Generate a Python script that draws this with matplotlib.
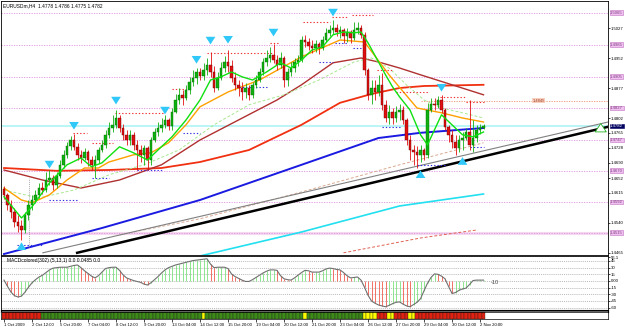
import numpy as np
import matplotlib
matplotlib.use("Agg")
import matplotlib.pyplot as plt

# EURUSDm H4, 1 Oct - 2 Nov 2009
first_open = 1.4625
closes = [
    1.4610, 1.4585, 1.4567, 1.4542, 1.4532, 1.4522, 1.4560, 1.4585, 1.4597, 1.4610,
    1.4627, 1.4622, 1.4647, 1.4652, 1.4635, 1.4657, 1.4685, 1.4710, 1.4732, 1.4747,
    1.4730, 1.4710, 1.4702, 1.4717, 1.4697, 1.4685, 1.4697, 1.4722, 1.4735, 1.4760,
    1.4777, 1.4785, 1.4802, 1.4777, 1.4760, 1.4747, 1.4760, 1.4735, 1.4722, 1.4710,
    1.4727, 1.4697, 1.4747, 1.4767, 1.4777, 1.4785, 1.4797, 1.4782, 1.4817, 1.4847,
    1.4860, 1.4852, 1.4872, 1.4892, 1.4902, 1.4917, 1.4907, 1.4922, 1.4935, 1.4917,
    1.4877, 1.4902, 1.4927, 1.4942, 1.4932, 1.4902, 1.4885, 1.4877, 1.4867, 1.4877,
    1.4860, 1.4885, 1.4897, 1.4917, 1.4942, 1.4952, 1.4960, 1.4947, 1.4935, 1.4952,
    1.4897, 1.4917, 1.4927, 1.4942, 1.4947, 1.4997, 1.4992, 1.4982, 1.4977, 1.4987,
    1.4977, 1.4997, 1.5015, 1.5022, 1.5027, 1.5017, 1.5022, 1.5007, 1.5017, 1.5002,
    1.5022, 1.5027, 1.5010, 1.4922, 1.4860, 1.4877, 1.4867, 1.4885, 1.4835, 1.4802,
    1.4817, 1.4802, 1.4817, 1.4822, 1.4797, 1.4747, 1.4722, 1.4717, 1.4710, 1.4722,
    1.4710, 1.4822, 1.4837, 1.4835, 1.4847, 1.4822, 1.4780, 1.4760, 1.4742, 1.4727,
    1.4747, 1.4752, 1.4767, 1.4735, 1.4752, 1.4772, 1.4777, 1.4782]
highs = [
    1.4632, 1.4615, 1.4597, 1.4577, 1.4560, 1.4547, 1.4567, 1.4597, 1.4610, 1.4622,
    1.4640, 1.4642, 1.4667, 1.4672, 1.4660, 1.4667, 1.4697, 1.4722, 1.4742, 1.4757,
    1.4762, 1.4740, 1.4722, 1.4727, 1.4722, 1.4707, 1.4710, 1.4730, 1.4747, 1.4772,
    1.4792, 1.4810, 1.4822, 1.4810, 1.4787, 1.4772, 1.4772, 1.4767, 1.4747, 1.4735,
    1.4735, 1.4732, 1.4755, 1.4777, 1.4792, 1.4802, 1.4810, 1.4802, 1.4827, 1.4862,
    1.4877, 1.4872, 1.4885, 1.4905, 1.4922, 1.4927, 1.4927, 1.4940, 1.4952, 1.4967,
    1.4932, 1.4917, 1.4942, 1.4957, 1.4972, 1.4947, 1.4917, 1.4897, 1.4892, 1.4890,
    1.4885, 1.4892, 1.4910, 1.4927, 1.4952, 1.4972, 1.4980, 1.4987, 1.4960, 1.4967,
    1.4957, 1.4927, 1.4942, 1.4952, 1.4960, 1.5007, 1.5010, 1.5002, 1.4997, 1.4997,
    1.4992, 1.5007, 1.5027, 1.5035, 1.5047, 1.5037, 1.5032, 1.5027, 1.5027, 1.5022,
    1.5042, 1.5042, 1.5035, 1.5017, 1.4927, 1.4897, 1.4897, 1.4910, 1.4915, 1.4847,
    1.4835, 1.4827, 1.4832, 1.4837, 1.4832, 1.4802, 1.4760, 1.4735, 1.4732, 1.4735,
    1.4727, 1.4840, 1.4852, 1.4852, 1.4857, 1.4860, 1.4827, 1.4785, 1.4772, 1.4760,
    1.4760, 1.4767, 1.4777, 1.4847, 1.4797, 1.4785, 1.4787, 1.4786]
lows = [
    1.4600, 1.4572, 1.4552, 1.4530, 1.4517, 1.4497, 1.4515, 1.4547, 1.4572, 1.4590,
    1.4602, 1.4612, 1.4617, 1.4635, 1.4622, 1.4627, 1.4652, 1.4677, 1.4702, 1.4722,
    1.4722, 1.4697, 1.4690, 1.4697, 1.4682, 1.4672, 1.4652, 1.4690, 1.4717, 1.4727,
    1.4752, 1.4767, 1.4777, 1.4767, 1.4747, 1.4735, 1.4735, 1.4722, 1.4672, 1.4692,
    1.4685, 1.4672, 1.4685, 1.4742, 1.4757, 1.4767, 1.4777, 1.4772, 1.4772, 1.4815,
    1.4837, 1.4835, 1.4847, 1.4862, 1.4882, 1.4887, 1.4897, 1.4897, 1.4910, 1.4905,
    1.4867, 1.4872, 1.4897, 1.4917, 1.4917, 1.4892, 1.4872, 1.4857, 1.4847, 1.4852,
    1.4847, 1.4852, 1.4877, 1.4892, 1.4910, 1.4932, 1.4942, 1.4940, 1.4922, 1.4927,
    1.4880, 1.4882, 1.4907, 1.4917, 1.4932, 1.4942, 1.4980, 1.4972, 1.4965, 1.4967,
    1.4962, 1.4972, 1.4992, 1.5007, 1.5012, 1.5007, 1.5002, 1.4990, 1.4992, 1.4990,
    1.4997, 1.5012, 1.5002, 1.4910, 1.4847, 1.4837, 1.4847, 1.4857, 1.4822, 1.4792,
    1.4787, 1.4787, 1.4792, 1.4797, 1.4787, 1.4735, 1.4697, 1.4685, 1.4677, 1.4692,
    1.4697, 1.4702, 1.4817, 1.4822, 1.4827, 1.4815, 1.4772, 1.4742, 1.4727, 1.4710,
    1.4717, 1.4722, 1.4747, 1.4722, 1.4717, 1.4742, 1.4762, 1.4775]

# moving averages, sampled at bar index
ma_fast_i = [0, 5, 8, 13, 18, 22, 25, 28, 33, 37, 41, 44, 48, 52, 56, 59, 62, 65, 68, 71, 75, 79,
             82, 85, 88, 91, 94, 97, 100, 102, 104, 107, 109, 111, 113, 116, 119, 121, 125, 128,
             131, 134, 137]
ma_fast_p = [1.4605, 1.4552, 1.4580, 1.4640, 1.4685, 1.4702, 1.4680, 1.4690, 1.4730, 1.4715,
             1.4697, 1.4722, 1.4755, 1.4797, 1.4847, 1.4897, 1.4905, 1.4917, 1.4905, 1.4897,
             1.4917, 1.4940, 1.4927, 1.4947, 1.4972, 1.4980, 1.5010, 1.5017, 1.5015, 1.5017,
             1.4990, 1.4942, 1.4910, 1.4880, 1.4855, 1.4822, 1.4760, 1.4735, 1.4810, 1.4785,
             1.4760, 1.4755, 1.4767]
ma_mid_i = [0, 5, 8, 13, 18, 23, 27, 30, 37, 42, 47, 52, 56, 64, 73, 85, 96, 103, 110, 118, 125,
            131, 137]
ma_mid_p = [1.4627, 1.4597, 1.4590, 1.4610, 1.4647, 1.4677, 1.4677, 1.4692, 1.4710, 1.4715,
            1.4740, 1.4785, 1.4830, 1.4867, 1.4897, 1.4955, 1.4997, 1.4992, 1.4910, 1.4827,
            1.4815, 1.4802, 1.4792]
ma_lite_i = [0, 10, 20, 30, 40, 50, 60, 70, 80, 90, 100, 105, 110, 115, 120, 125, 130, 137]
ma_lite_p = [1.4622, 1.4602, 1.4622, 1.4660, 1.4685, 1.4722, 1.4785, 1.4835, 1.4860, 1.4897,
             1.4942, 1.4952, 1.4927, 1.4885, 1.4847, 1.4827, 1.4817, 1.4802]
ma_brown_i = [0, 11, 22, 33, 45, 56, 67, 78, 85, 94, 102, 107, 113, 119, 128, 137]
ma_brown_p = [1.4672, 1.4647, 1.4627, 1.4647, 1.4685, 1.4747, 1.4797, 1.4847, 1.4885, 1.4940,
              1.4952, 1.4942, 1.4927, 1.4910, 1.4885, 1.4860]
ma_red_i = [0, 15, 30, 45, 56, 70, 85, 96, 105, 113, 120, 137]
ma_red_p = [1.4677, 1.4670, 1.4672, 1.4677, 1.4692, 1.4722, 1.4785, 1.4840, 1.4862, 1.4877,
            1.4882, 1.4885]
ma_blue_i = [0, 28, 56, 85, 107, 119, 137]
ma_blue_p = [1.4462, 1.4527, 1.4597, 1.4685, 1.4752, 1.4765, 1.4777]
ma_cyan_i = [55, 85, 113, 137]
ma_cyan_p = [1.4455, 1.4517, 1.4582, 1.4612]
ma_reddash_i = [97, 119, 135]
ma_reddash_p = [1.4465, 1.4502, 1.4522]
ma_tan_i = [33, 56, 85, 113, 137]
ma_tan_p = [1.4510, 1.4550, 1.4617, 1.4685, 1.4740]

# trend lines (start / end)
black_line_i = [20.9, 172.6]
black_line_p = [1.4465, 1.4780]
grey_line_i = [11.1, 172.6]
grey_line_p = [1.4465, 1.4792]

pivot_levels = [1.5065, 1.4985, 1.4905, 1.4827, 1.4747, 1.4670, 1.4592, 1.4515]
bid_price = 1.4782
orange_level = 1.4845

# fractal levels: (start index, end index, price)
res_levels = [(19.7, 23.7, 1.4765), (25, 31, 1.4740), (31.7, 45.4, 1.4815), (48, 52, 1.4875),
              (58, 76.9, 1.4965), (76, 78.9, 1.4990), (85.4, 93, 1.5042), (93.7, 98, 1.5055),
              (99.4, 105.4, 1.5060), (106.6, 111, 1.4922), (112, 121, 1.4867),
              (124.6, 132, 1.4855), (132, 137, 1.4842)]
sup_levels = [(3.7, 11, 1.4485), (13, 21, 1.4597), (25, 30, 1.4652), (38, 45, 1.4672),
              (51, 56, 1.4765), (67, 75, 1.4880), (90, 94, 1.4942), (94.6, 98, 1.4990),
              (99.7, 102.6, 1.4977), (108, 113, 1.4780), (118, 126.6, 1.4685), (133, 137, 1.4730)]

arrow_dn_i = [13, 20, 32, 46, 55, 59, 64, 77, 94, 125]
arrow_dn_p = [1.4680, 1.4777, 1.4840, 1.4815, 1.4942, 1.4990, 1.4992, 1.5010, 1.5060, 1.4872]
arrow_up_i = [5, 119, 131]
arrow_up_p = [1.4487, 1.4667, 1.4700]

macd = [2, -12, -25, -33, -36, -34, -25, -14, -4, 3, 9, 13, 19, 25, 29, 30, 31, 31, 31, 33,
        35, 36, 30, 23, 17, 11, 7, 12, 20, 28, 30, 31, 31, 24, 14, 7, 4, 1, -1, -3,
        -7, -9, -4, 3, 10, 18, 25, 30, 33, 36, 38, 40, 42, 44, 46, 47, 48, 49, 50, 38,
        30, 31, 31, 31, 28, 16, 10, 6, 2, -1, -1, 3, 8, 13, 18, 22, 25, 25, 24, 12,
        5, 3, 2, 7, 13, 19, 24, 23, 20, 20, 20, 23, 27, 29, 28, 26, 25, 19, 12, 7,
        8, 9, 2, -14, -32, -45, -50, -54, -56, -58, -55, -51, -48, -47, -52, -56, -58, -53, -48, -40,
        -22, -5, 8, 16, 15, 11, 5, -12, -28, -26, -21, -18, -16, -8, 1, 2, 2, 2]
macd_levels = [45, 30, 15, 0, -15, -30, -45, -60]

strip_runs = [("r", 11), ("g", 46), ("y", 1), ("g", 28), ("y", 1), ("g", 16), ("y", 4),
              ("r", 3), ("y", 2), ("r", 4), ("y", 2), ("r", 20)]

date_labels = ["1 Oct 2009", "2 Oct 12:00", "5 Oct 20:00", "7 Oct 04:00", "8 Oct 12:00",
               "9 Oct 20:00", "13 Oct 04:00", "14 Oct 12:00", "15 Oct 20:00", "19 Oct 04:00",
               "20 Oct 12:00", "21 Oct 20:00", "23 Oct 04:00", "26 Oct 12:00", "27 Oct 20:00",
               "29 Oct 04:00", "30 Oct 12:00", "2 Nov 20:00"]

plt.rcParams["font.family"] = ["Liberation Sans", "DejaVu Sans"]
W, H = 625, 327
fig = plt.figure(figsize=(W / 100, H / 100), dpi=100)


def px_axes(x0, y0, x1, y1):
    return fig.add_axes([x0 / W, 1 - y1 / H, (x1 - x0) / W, (y1 - y0) / H])


XLIM = (-0.857, 172.57)
FS = 3.5
AX_FS = 3.1

# ---------------- main price window ----------------
ax = px_axes(1, 1, 608, 255)
ax.set_xlim(*XLIM)
ax.set_ylim(1.44595, 1.50945)

for p in pivot_levels:
    ax.axhline(p, color="#e090e0", lw=0.6, ls=(0, (1.5, 1.5)), zorder=1)
ax.axhline(pivot_levels[-1], color="#f4d8f0", lw=2.2, zorder=0.5)
ax.axhline(bid_price, color="#aef4f4", lw=1.2, zorder=0.5)
ax.plot([119, XLIM[1]], [orange_level] * 2, color="#f09070", lw=0.6, ls=(0, (1.5, 1.5)))

ax.plot(ma_tan_i, ma_tan_p, color="#d8a890", lw=0.7, ls=(0, (3, 2)))
ax.plot(ma_cyan_i, ma_cyan_p, color="#22e0f0", lw=1.2)
ax.plot(ma_reddash_i, ma_reddash_p, color="#e06050", lw=0.7, ls=(0, (3, 2)))
ax.plot(grey_line_i, grey_line_p, color="#808080", lw=0.8)
ax.plot(black_line_i, black_line_p, color="#000000", lw=1.8)
ax.plot(ma_blue_i, ma_blue_p, color="#1a1ae0", lw=1.4)
ax.plot(ma_red_i, ma_red_p, color="#f03010", lw=1.3)
ax.plot(ma_brown_i, ma_brown_p, color="#b03030", lw=1.0)
ax.plot(ma_lite_i, ma_lite_p, color="#a8e890", lw=0.7, ls=(0, (3, 2)))
ax.plot(ma_mid_i, ma_mid_p, color="#ffa000", lw=1.0)

for a, b, p in res_levels:
    ax.plot([a, b], [p, p], color="#f03030", lw=0.8, ls=(0, (1.2, 1.8)))
for a, b, p in sup_levels:
    ax.plot([a, b], [p, p], color="#3030e0", lw=0.8, ls=(0, (1.2, 1.8)))

# candles
idx = np.arange(len(closes))
opens = np.array([first_open] + closes[:-1])
c_arr = np.array(closes)
up = c_arr >= opens
body_col = np.where(up, "#10b010", "#e01010")
edge_col = np.where(up, "#007000", "#700000")
ax.vlines(idx, lows, highs, colors=body_col, lw=0.6, zorder=3)
ax.bar(idx, np.maximum(np.abs(c_arr - opens), 0.00006), bottom=np.minimum(c_arr, opens),
       width=0.72, color=body_col, edgecolor=edge_col, lw=0.3, zorder=4)

ax.plot(ma_fast_i, ma_fast_p, color="#10e010", lw=1.0, zorder=5)

# vertical dotted marker near the October low
ax.vlines(7.2, 1.4479, 1.4652, color="#909090", lw=0.5, ls=(0, (1.5, 1.5)))

arrow_kw = dict(arrowstyle="simple,head_width=0.7,head_length=0.55,tail_width=0.35",
                color="#30c8f8", lw=0)
for i, p in zip(arrow_dn_i, arrow_dn_p):
    ax.annotate("", xy=(i, p - 0.0011), xytext=(i, p + 0.0013), arrowprops=arrow_kw, zorder=6)
for i, p in zip(arrow_up_i, arrow_up_p):
    ax.annotate("", xy=(i, p + 0.0011), xytext=(i, p - 0.0013), arrowprops=arrow_kw, zorder=6)

# green outline arrow at the right end of the trend line
ax.annotate("", xy=(170.5, 1.4795), xytext=(170.5, 1.4770),
            arrowprops=dict(arrowstyle="simple,head_width=0.8,head_length=0.6,tail_width=0.4",
                            fc="white", ec="#20b020", lw=0.6))

ax.text(0.004, 0.992, "EURUSDm,H4  1.4778 1.4786 1.4775 1.4782", transform=ax.transAxes,
        fontsize=FS, va="top", ha="left")
ax.text(151, orange_level, "1.4845", fontsize=3, va="center", ha="left", color="#a04020",
        bbox=dict(fc="#f8d0c0", ec="none", pad=0.3))

# price scale: skip ticks that sit under the level boxes
boxed = pivot_levels + [bid_price]
price_ticks = [round(1.4465 + k * 0.00375, 4) for k in range(17)]
price_ticks = [t for t in price_ticks if t < 1.5085 and min(abs(t - b) for b in boxed) > 0.0016]
ax.yaxis.tick_right()
ax.set_yticks(price_ticks)
ax.set_yticklabels([f"{t:.4f}" for t in price_ticks])
ax.tick_params(axis="y", labelsize=AX_FS, length=1.5, width=0.5, pad=0.6)
ax.set_xticks([])
for p in pivot_levels:
    ax.text(1.0035, p, f"{p:.4f}", transform=ax.get_yaxis_transform(), fontsize=AX_FS,
            va="center", ha="left", color="#804080", clip_on=False, zorder=10,
            bbox=dict(fc="#f0c0f0", ec="#c070c0", lw=0.4, pad=0.3))
ax.text(1.0035, bid_price, f"{bid_price:.4f}", transform=ax.get_yaxis_transform(),
        fontsize=AX_FS, va="center", ha="left", color="white", clip_on=False, zorder=11,
        bbox=dict(fc="#000060", ec="#000060", lw=0.4, pad=0.3))
for s in ax.spines.values():
    s.set_linewidth(0.6)

# ---------------- MACD window ----------------
ax2 = px_axes(1, 256, 608, 310)
ax2.set_xlim(*XLIM)
ax2.set_ylim(-65.25, 56.25)
for v in macd_levels:
    ax2.axhline(v, color="#a0a0a0", lw=0.5, ls=(0, (1.5, 1.5)))
m = np.array(macd)
rising = np.r_[True, m[1:] >= m[:-1]]
ax2.vlines(idx, 0, m, colors=np.where(rising, "#70e070", "#f04a3a"), lw=0.55)
ax2.plot(idx, m, color="#707070", lw=0.8)
ax2.text(139, -4, "-10", fontsize=4, va="center", ha="left", color="#404040")
ax2.text(0.01, 0.97, "MACDcolored(302) (5,13,1) 0.0 0.0485 0.0", transform=ax2.transAxes,
         fontsize=FS, va="top", ha="left")
ax2.yaxis.tick_right()
ax2.set_yticks([53] + macd_levels)
ax2.set_yticklabels(["56.1"] + [("0.00" if v == 0 else str(v)) for v in macd_levels])
ax2.tick_params(axis="y", labelsize=AX_FS, length=1.5, width=0.5, pad=0.6)
ax2.set_xticks([])
for s in ax2.spines.values():
    s.set_linewidth(0.6)

# separator and colour strip
sep = px_axes(1, 310, 608, 312)
sep.set_facecolor("#707070")
sep.set_xticks([])
sep.set_yticks([])

ax3 = px_axes(1, 312, 608, 319)
ax3.set_xlim(*XLIM)
ax3.set_ylim(0, 1)
strip_colors = {"r": "#e02010", "g": "#3c8a18", "y": "#ffff00"}
pos = 0
for state, n in strip_runs:
    ax3.bar(np.arange(pos, pos + n), 1, width=1.0, color=strip_colors[state],
            edgecolor="#202020", lw=0.25)
    pos += n
ax3.set_yticks([])
ax3.set_xticks(np.arange(0, 8 * len(date_labels), 8))
ax3.set_xticklabels(date_labels, ha="left")
ax3.tick_params(axis="x", labelsize=AX_FS, length=2, width=0.5, pad=1)
for s in ax3.spines.values():
    s.set_linewidth(0.5)

fig.savefig("out.png", dpi=100)
